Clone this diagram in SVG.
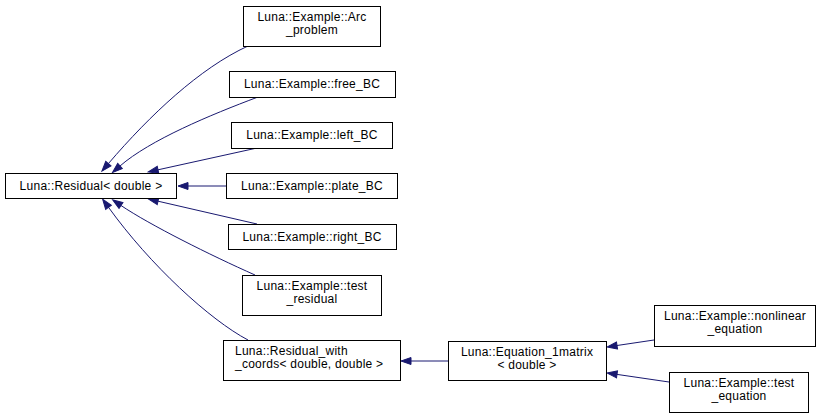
<svg xmlns="http://www.w3.org/2000/svg" width="829" height="419" viewBox="0 0 829 419">
<style>
.n rect{fill:#fff;stroke:#000;stroke-width:1}
.n text{font-family:"Liberation Sans",Arial,sans-serif;font-size:12px;letter-spacing:0.25px;fill:#000;text-anchor:middle}
.e path{fill:none;stroke:#191970;stroke-width:1}
</style>
<defs>
<marker id="ah" markerUnits="userSpaceOnUse" markerWidth="12" markerHeight="10" refX="0" refY="0" viewBox="0 -5 12 10" orient="auto" overflow="visible">
<path d="M0,-3.5 L10,0 L0,3.5 Z" fill="#191970" stroke="#191970"/>
</marker>
</defs>
<rect width="829" height="419" fill="#fff"/>
<g class="e" id="edges">
<path d="M248,46 C200,68 150,115 108.4,163.6" marker-end="url(#ah)"/>
<path d="M258,97 C210,115 150,140 120,166" marker-end="url(#ah)"/>
<path d="M257,148 L158,169.8" marker-end="url(#ah)"/>
<path d="M226,186 L188,186" marker-end="url(#ah)"/>
<path d="M257,224 L158,201.2" marker-end="url(#ah)"/>
<path d="M255,275 C210,255 150,225 121,205.5" marker-end="url(#ah)"/>
<path d="M248,340 C210,320 150,265 108.5,207.3" marker-end="url(#ah)"/>
<path d="M448,361 L411,361" marker-end="url(#ah)"/>
<path d="M654,340 L617,345.5" marker-end="url(#ah)"/>
<path d="M669,382 L617,374.4" marker-end="url(#ah)"/>
</g>
<g class="n" id="residual"><rect x="5.5" y="173.5" width="171" height="25"/><text x="91" y="189.5">Luna::Residual&lt; double &gt;</text></g>
<g class="n" id="arc"><rect x="243.5" y="6.5" width="137" height="40"/><text x="312" y="21">Luna::Example::Arc</text><text x="312" y="34">_problem</text></g>
<g class="n" id="free"><rect x="229.5" y="71.5" width="166" height="26"/><text x="312" y="88">Luna::Example::free_BC</text></g>
<g class="n" id="left"><rect x="231.5" y="122.5" width="161" height="26"/><text x="312" y="139">Luna::Example::left_BC</text></g>
<g class="n" id="plate"><rect x="226.5" y="173.5" width="171" height="25"/><text x="312" y="189.5">Luna::Example::plate_BC</text></g>
<g class="n" id="right"><rect x="228.5" y="224.5" width="168" height="25"/><text x="312" y="240.5">Luna::Example::right_BC</text></g>
<g class="n" id="testres"><rect x="242.5" y="275.5" width="139" height="40"/><text x="312" y="290">Luna::Example::test</text><text x="312" y="303">_residual</text></g>
<g class="n" id="rwc"><rect x="223.5" y="340.5" width="177" height="40"/><text x="235" y="355" style="text-anchor:start">Luna::Residual_with</text><text x="235" y="368" style="text-anchor:start">_coords&lt; double, double &gt;</text></g>
<g class="n" id="eq"><rect x="448.5" y="341.5" width="158" height="39"/><text x="527" y="356">Luna::Equation_1matrix</text><text x="527" y="369">&lt; double &gt;</text></g>
<g class="n" id="nonlin"><rect x="654.5" y="305.5" width="161" height="41"/><text x="735" y="320">Luna::Example::nonlinear</text><text x="735" y="333">_equation</text></g>
<g class="n" id="testeq"><rect x="669.5" y="372.5" width="139" height="40"/><text x="739" y="387">Luna::Example::test</text><text x="739" y="400">_equation</text></g>
</svg>
